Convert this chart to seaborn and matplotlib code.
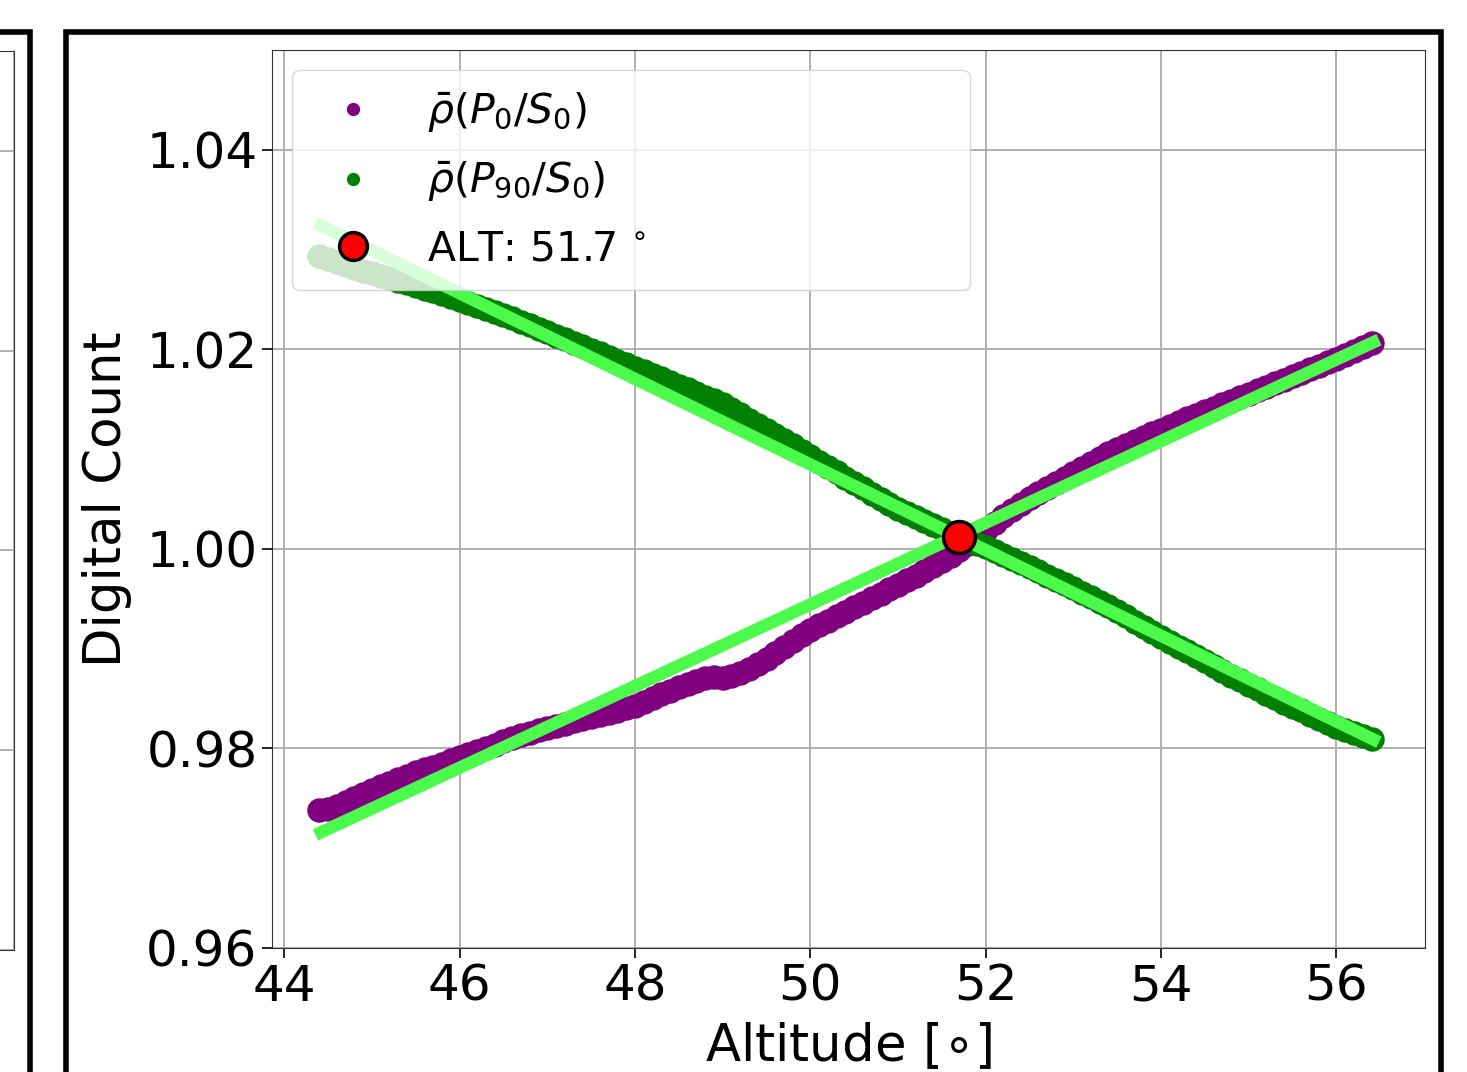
import numpy as np
import pandas as pd
import seaborn as sns
import matplotlib.pyplot as plt
from matplotlib.lines import Line2D
from matplotlib.patches import Rectangle

# altitude samples (deg)
altitude = [44.4, 44.5, 44.6, 44.7, 44.8, 44.9, 45.0, 45.1, 45.2, 45.3,
            45.4, 45.5, 45.6, 45.7, 45.8, 45.9, 46.0, 46.1, 46.2, 46.3,
            46.4, 46.5, 46.6, 46.7, 46.8, 46.9, 47.0, 47.1, 47.2, 47.3,
            47.4, 47.5, 47.6, 47.7, 47.8, 47.9, 48.0, 48.1, 48.2, 48.3,
            48.4, 48.5, 48.6, 48.7, 48.8, 48.9, 49.0, 49.1, 49.2, 49.3,
            49.4, 49.5, 49.6, 49.7, 49.8, 49.9, 50.0, 50.1, 50.2, 50.3,
            50.4, 50.5, 50.6, 50.7, 50.8, 50.9, 51.0, 51.1, 51.2, 51.3,
            51.4, 51.5, 51.6, 51.7, 51.8, 51.9, 52.0, 52.1, 52.2, 52.3,
            52.4, 52.5, 52.6, 52.7, 52.8, 52.9, 53.0, 53.1, 53.2, 53.3,
            53.4, 53.5, 53.6, 53.7, 53.8, 53.9, 54.0, 54.1, 54.2, 54.3,
            54.4, 54.5, 54.6, 54.7, 54.8, 54.9, 55.0, 55.1, 55.2, 55.3,
            55.4, 55.5, 55.6, 55.7, 55.8, 55.9, 56.0, 56.1, 56.2, 56.3, 56.4]

# rho(P0/S0)
rho_p0 = [0.9738, 0.9739, 0.9742, 0.9746, 0.9750, 0.9754, 0.9758, 0.9762, 0.9765, 0.9769,
          0.9772, 0.9776, 0.9779, 0.9781, 0.9784, 0.9788, 0.9791, 0.9794, 0.9797, 0.9800,
          0.9803, 0.9807, 0.9810, 0.9813, 0.9815, 0.9818, 0.9820, 0.9822, 0.9824, 0.9827,
          0.9829, 0.9831, 0.9833, 0.9835, 0.9837, 0.9840, 0.9843, 0.9847, 0.9851, 0.9855,
          0.9858, 0.9862, 0.9865, 0.9868, 0.9871, 0.9872, 0.9871, 0.9873, 0.9876, 0.9880,
          0.9885, 0.9890, 0.9896, 0.9902, 0.9908, 0.9914, 0.9919, 0.9924, 0.9928, 0.9933,
          0.9937, 0.9942, 0.9946, 0.9951, 0.9955, 0.9960, 0.9964, 0.9969, 0.9973, 0.9978,
          0.9983, 0.9988, 0.9993, 0.9999, 1.0005, 1.0012, 1.0019, 1.0026, 1.0033, 1.0039,
          1.0045, 1.0051, 1.0056, 1.0061, 1.0066, 1.0071, 1.0076, 1.0081, 1.0086, 1.0091,
          1.0096, 1.0100, 1.0104, 1.0108, 1.0112, 1.0116, 1.0119, 1.0123, 1.0127, 1.0131,
          1.0134, 1.0138, 1.0141, 1.0145, 1.0148, 1.0152, 1.0155, 1.0159, 1.0162, 1.0166,
          1.0169, 1.0173, 1.0176, 1.0180, 1.0183, 1.0187, 1.0190, 1.0194, 1.0198, 1.0202, 1.0206]

# rho(P90/S0)
rho_p90 = [1.0293, 1.0290, 1.0287, 1.0284, 1.0281, 1.0278, 1.0276, 1.0273, 1.0271, 1.0268,
           1.0266, 1.0263, 1.0260, 1.0258, 1.0255, 1.0252, 1.0249, 1.0246, 1.0243, 1.0240,
           1.0237, 1.0234, 1.0231, 1.0227, 1.0224, 1.0220, 1.0217, 1.0213, 1.0210, 1.0206,
           1.0203, 1.0199, 1.0196, 1.0192, 1.0188, 1.0185, 1.0181, 1.0178, 1.0174, 1.0171,
           1.0167, 1.0163, 1.0160, 1.0156, 1.0152, 1.0149, 1.0145, 1.0140, 1.0135, 1.0129,
           1.0124, 1.0119, 1.0114, 1.0109, 1.0104, 1.0098, 1.0093, 1.0087, 1.0082, 1.0077,
           1.0071, 1.0066, 1.0061, 1.0055, 1.0050, 1.0045, 1.0040, 1.0036, 1.0032, 1.0028,
           1.0024, 1.0020, 1.0016, 1.0012, 1.0009, 1.0005, 1.0002, 0.9998, 0.9994, 0.9990,
           0.9986, 0.9982, 0.9978, 0.9973, 0.9969, 0.9965, 0.9961, 0.9956, 0.9952, 0.9947,
           0.9943, 0.9938, 0.9933, 0.9927, 0.9922, 0.9917, 0.9912, 0.9907, 0.9902, 0.9898,
           0.9893, 0.9888, 0.9883, 0.9878, 0.9873, 0.9869, 0.9864, 0.9860, 0.9855, 0.9851,
           0.9846, 0.9842, 0.9838, 0.9833, 0.9829, 0.9825, 0.9821, 0.9818, 0.9815, 0.9812, 0.9809]

# linear fits (end points)
fit_alt = [44.42, 56.42]
fit_p0 = [0.9716, 1.0207]
fit_p90 = [1.0324, 0.9809]

# crossing point
alt_cross = [51.7]
dc_cross = [1.0012]

df = pd.DataFrame({'alt': altitude, 'p0': rho_p0, 'p90': rho_p90})
fit = pd.DataFrame({'alt': fit_alt, 'p0': fit_p0, 'p90': fit_p90})

fig = plt.figure(figsize=(14.67, 10.72), dpi=100)

# partial neighbour panel on the left
ax0 = fig.add_axes([-0.5, 0.1138, 0.5095, 0.8386])
ax0.set_ylim(0.96, 1.05)
ax0.set_yticks([0.96, 0.98, 1.00, 1.02, 1.04])
ax0.grid(True, color='#b0b0b0', lw=1.4)
ax0.tick_params(labelleft=False, labelbottom=False, left=False, bottom=False)
for s in ax0.spines.values():
    s.set_color('#333333')

ax = fig.add_axes([0.1854, 0.1157, 0.786, 0.8377])

sns.scatterplot(data=df, x='alt', y='p0', color='purple', s=310, linewidth=0, ax=ax, zorder=2)
sns.scatterplot(data=df, x='alt', y='p90', color='green', s=310, linewidth=0, ax=ax, zorder=2)
sns.lineplot(data=fit, x='alt', y='p0', color='#4cfa4c', lw=9, sort=False, ax=ax, zorder=3)
sns.lineplot(data=fit, x='alt', y='p90', color='#4cfa4c', lw=9, sort=False, ax=ax, zorder=3)
ax.plot(alt_cross, dc_cross, 'o', color='red', markersize=23, markeredgecolor='black',
        markeredgewidth=2.5, zorder=5)

ax.set_xlim(43.86, 57.01)
ax.set_ylim(0.96, 1.05)
ax.set_xticks([44, 46, 48, 50, 52, 54, 56])
ax.set_yticks([0.96, 0.98, 1.00, 1.02, 1.04])
ax.grid(True, color='#b0b0b0', lw=1.4)
ax.set_axisbelow(True)
ax.tick_params(labelsize=36, length=7, width=1.2)
for s in ax.spines.values():
    s.set_color('#333333')
ax.set_xlabel(r'Altitude [$\circ$]', fontsize=37, labelpad=8)
ax.set_ylabel('Digital Count', fontsize=37, labelpad=10)

handles = [
    Line2D([], [], ls='', marker='o', color='purple', markersize=8.5),
    Line2D([], [], ls='', marker='o', color='green', markersize=8.5),
    Line2D([], [], ls='', marker='o', color='red', markeredgecolor='black',
           markeredgewidth=2.5, markersize=20),
]
labels = [r'$\bar{\rho}(P_0/S_0)$', r'$\bar{\rho}(P_{90}/S_0)$', r'ALT: 51.7$\,^\circ$']
ax.legend(handles, labels, loc='upper left', mode='expand', fontsize=29.5,
          bbox_to_anchor=(0.0173, 0.0, 0.588, 0.9777), borderaxespad=0,
          labelspacing=0.62, handletextpad=0.8, borderpad=0.5)

# black panel frames
fig.patches.append(Rectangle((-100, -100), 130, 1140, transform=None, fill=False,
                             lw=4, ec='black', zorder=10))
fig.patches.append(Rectangle((66, -100), 1375, 1140, transform=None, fill=False,
                             lw=4, ec='black', zorder=10))

fig.savefig('out.png', dpi=100)
